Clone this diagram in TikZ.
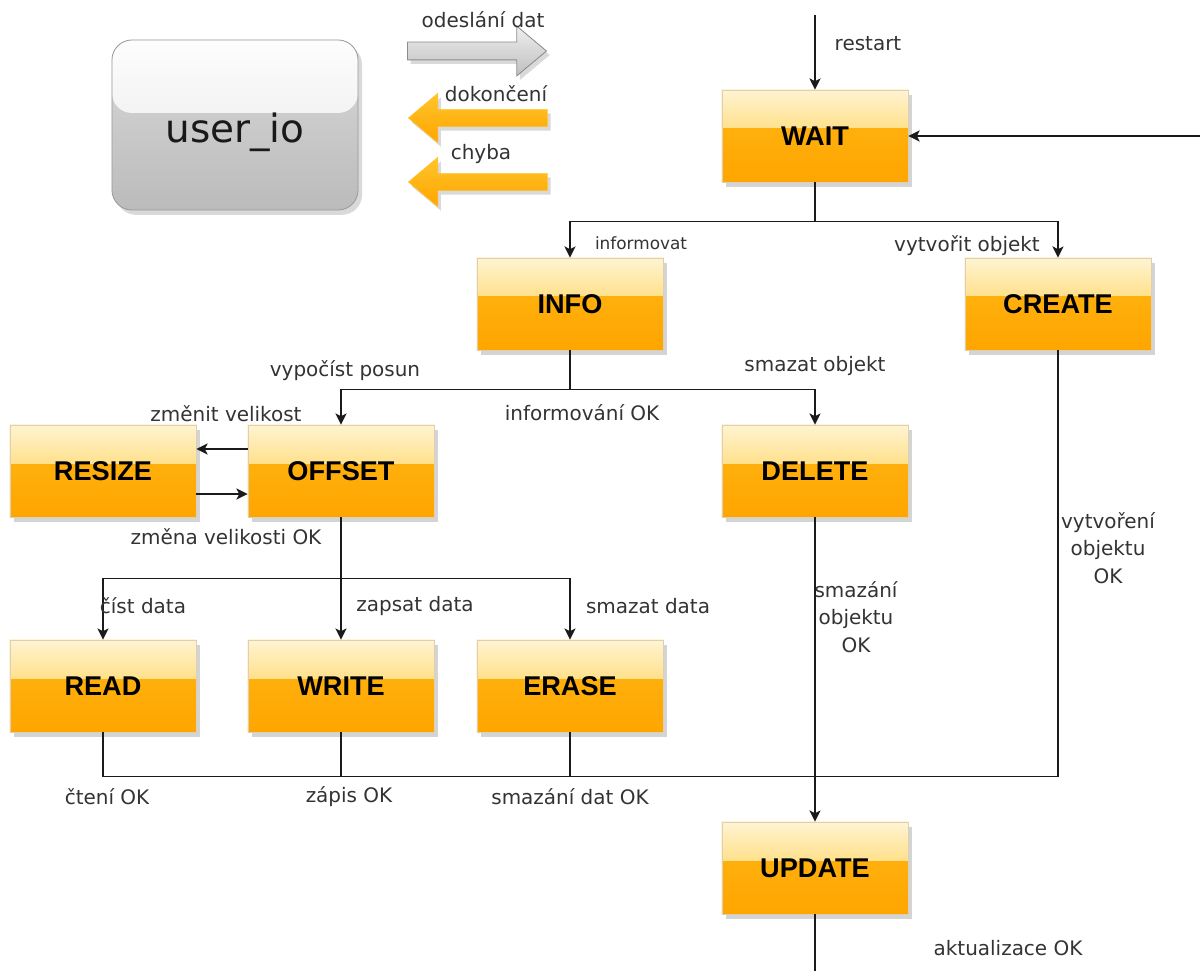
\documentclass[tikz,border=0pt]{standalone}
\usepackage{fontspec}
\setmainfont{DejaVu Sans}
\newfontfamily\boxfont{Liberation Sans}
\usepackage{tikz}
\usetikzlibrary{arrows.meta,shapes.arrows,shadows}

\definecolor{boxtop}{HTML}{FFF4D2}
\definecolor{boxmid}{HTML}{FFC52A}
\definecolor{boxlow}{HTML}{FFB715}
\definecolor{boxbot}{HTML}{FFA500}
\definecolor{boxline}{HTML}{DCCFB4}
\definecolor{iotop}{HTML}{FDFDFD}
\definecolor{iomid}{HTML}{E6E6E6}
\definecolor{iolow}{HTML}{D9D9D9}
\definecolor{iobot}{HTML}{BBBBBB}
\definecolor{ioline}{HTML}{9A9A9A}
\definecolor{sendtop}{HTML}{EFEFEF}
\definecolor{sendbot}{HTML}{BEBEBE}
\definecolor{linecol}{HTML}{1A1A1A}
\definecolor{lbltext}{HTML}{333333}

\tikzset{
  stbox/.style={rectangle, minimum width=4.65cm, minimum height=2.3cm, inner sep=0pt,
    draw=boxline, line width=0.6pt, top color=boxlow, bottom color=boxbot,
    drop shadow={shadow xshift=0.1cm, shadow yshift=-0.12cm, fill=black!17, opacity=1},
    path picture={\shade[top color=boxtop, bottom color=boxmid]
      (path picture bounding box.north west) rectangle ([yshift=0.2cm]path picture bounding box.east);},
    font=\boxfont\bfseries\fontsize{19.3}{23}\selectfont, text=black},
  iobox/.style={rectangle, rounded corners=0.5cm, minimum width=6.15cm, minimum height=4.25cm,
    draw=ioline, line width=0.6pt, top color=iolow, bottom color=iobot,
    drop shadow={shadow xshift=0.1cm, shadow yshift=-0.12cm, fill=black!15, opacity=1},
    path picture={\shade[top color=iotop, bottom color=iomid]
      (path picture bounding box.north west) rectangle ([yshift=0.3cm]path picture bounding box.east);},
    font=\fontsize{27.7}{33}\selectfont, text=black!90},
  pipe/.style={single arrow, inner xsep=0pt, inner ysep=0.2125cm, single arrow head extend=0.4cm,
    single arrow tip angle=80, minimum height=3.475cm,
    drop shadow={shadow xshift=0.08cm, shadow yshift=-0.1cm, fill=black!15, opacity=1}},
  pipe out/.style={pipe, anchor=tail, draw=black!45, line width=0.6pt, top color=sendtop, bottom color=sendbot},
  pipe in/.style={pipe, anchor=tip, shape border rotate=180, draw=boxmid, line width=0.3pt,
    top color=boxmid, bottom color=boxbot},
  flow/.style={draw=linecol, line width=0.9pt, -{Stealth[length=2.8mm,width=2.8mm,inset=0.7mm]}},
  wire/.style={draw=linecol, line width=0.9pt},
  lbl/.style={text=lbltext, font=\fontsize{14.2}{19.5}\selectfont, align=center, inner sep=0pt},
}

\begin{document}
\begin{tikzpicture}[x=0.025cm, y=-0.025cm]
  \useasboundingbox (0,0) rectangle (1200,971);

  % interface block with its signals
  \node[iobox] (io) at (235,125) {\raisebox{-0.44cm}[0pt][0pt]{user\_io}};
  \node[pipe out] (send) at (407,51) {};
  \node[pipe in] (done) at (408,118) {};
  \node[pipe in] (fail) at (408,182) {};
  \node[lbl] (lsend) at (483,20) {odeslání dat};
  \node[lbl] (ldone) at (496,94) {dokončení};
  \node[lbl] (lfail) at (481,154) {chyba};

  % states
  \node[stbox] (wait) at (815,136) {WAIT};
  \node[stbox] (info) at (570,304) {INFO};
  \node[stbox] (create) at (1058,304) {CREATE};
  \node[stbox] (resize) at (103,471) {RESIZE};
  \node[stbox] (offset) at (341,471) {OFFSET};
  \node[stbox] (delete) at (815,471) {DELETE};
  \node[stbox] (read) at (103,686) {READ};
  \node[stbox] (write) at (341,686) {WRITE};
  \node[stbox] (erase) at (570,686) {ERASE};
  \node[stbox] (update) at (815,868) {UPDATE};

  % loose ends
  \coordinate (entry) at (815,15);
  \coordinate (back) at (1200,136);
  \coordinate (exit) at (815,971);

  % transitions
  \draw[flow] (entry) -- (wait.north);
  \draw[flow] (back) -- (wait.east);
  \draw[flow] (wait.south) -- ++(0,39) -| (info.north);
  \draw[flow] (wait.south) -- ++(0,39) -| (create.north);
  \draw[flow] (info.south) -- ++(0,39) -| (offset.north);
  \draw[flow] (info.south) -- ++(0,39) -| (delete.north);
  \draw[flow] ([yshift=0.55cm]offset.west) -- ([yshift=0.55cm]resize.east);
  \draw[flow] ([yshift=-0.575cm]resize.east) -- ([yshift=-0.575cm]offset.west);
  \draw[flow] (offset.south) -- ++(0,61) -| (read.north);
  \draw[flow] (offset.south) -- (write.north);
  \draw[flow] (offset.south) -- ++(0,61) -| (erase.north);
  \draw[wire] (read.south) -- ++(0,44) -| (create.south);
  \draw[wire] (write.south) -- ++(0,44);
  \draw[wire] (erase.south) -- ++(0,44);
  \draw[flow] (delete.south) -- (update.north);
  \draw[wire] (update.south) -- (exit);

  % transition labels
  \node[lbl] (lrestart) at (868,44) {restart};
  \node[lbl, font=\fontsize{12}{15}\selectfont] (linform) at (641,243) {informovat};
  \node[lbl] (lcreate) at (967,246) {vytvořit objekt};
  \node[lbl] (loffset) at (345,371) {vypočíst posun};
  \node[lbl] (ldelete) at (815,366) {smazat objekt};
  \node[lbl] (linfook) at (582,413) {informování OK};
  \node[lbl] (lresize) at (226,414) {změnit velikost};
  \node[lbl] (lresizeok) at (226,537) {změna velikosti OK};
  \node[lbl] (lread) at (143,606) {číst data};
  \node[lbl] (lwrite) at (415,606) {zapsat data};
  \node[lbl] (lerase) at (648,606) {smazat data};
  \node[lbl] (lreadok) at (107,797) {čtení OK};
  \node[lbl] (lwriteok) at (349,797) {zápis OK};
  \node[lbl] (leraseok) at (570,797) {smazání dat OK};
  \node[lbl] (ldeleteok) at (856,617) {smazání\\objektu\\OK};
  \node[lbl] (lcreateok) at (1108,548) {vytvoření\\objektu\\OK};
  \node[lbl] (lupdateok) at (1008,948) {aktualizace OK};
\end{tikzpicture}
\end{document}
